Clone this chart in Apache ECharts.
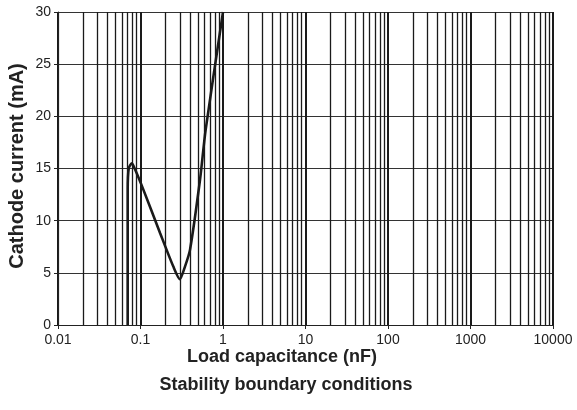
<!DOCTYPE html>
<html><head><meta charset="utf-8">
<script src="https://cdn.jsdelivr.net/npm/echarts@6/dist/echarts.min.js"></script>
<style>html,body{margin:0;padding:0;background:#fff}#c{width:577px;height:410px}</style>
</head><body><div id="c"></div>
<script>
// Data
var capacitanceNF = [0.07, 0.07, 0.072, 0.0784, 0.085, 0.108, 0.173, 0.25, 0.3, 0.346, 0.398, 0.526, 0.616, 1.0];
var currentMA     = [0,    13,   15,    15.5,   15,    13,    8.8,   5.6,  4.4, 5.6,   7.2,   13.9,  18.7,  30];
var xTickLabels = ['0.01', '0.1', '1', '10', '100', '1000', '10000'];
var decades = [0.01, 0.1, 1, 10, 100, 1000];
var minorMultipliers = [2, 3, 4, 5, 6, 7, 8, 9];

var minorGrid = [];
decades.forEach(function (d) { minorMultipliers.forEach(function (m) { minorGrid.push({ xAxis: Number((d * m).toPrecision(3)) }); }); });

var font = '"Liberation Sans", Arial, sans-serif';
var titleStyle = { fontFamily: font, fontSize: 18, fontWeight: 'bold', fill: '#222', textAlign: 'center', textVerticalAlign: 'middle' };
var chart = echarts.init(document.getElementById('c'));
chart.setOption({
  animation: false,
  grid: { left: 58, right: 24, top: 12, bottom: 85 },
  graphic: [
    { type: 'text', x: 282, y: 357, silent: true,
      style: Object.assign({ text: 'Load capacitance (nF)' }, titleStyle) },
    { type: 'text', x: 286, y: 385, silent: true,
      style: Object.assign({ text: 'Stability boundary conditions' }, titleStyle) },
    { type: 'text', x: 17, y: 166, rotation: Math.PI / 2, silent: true,
      style: Object.assign({ text: 'Cathode current (mA)' }, titleStyle, { fontSize: 20 }) }
  ],
  xAxis: {
    type: 'log', min: 0.01, max: 10000, logBase: 10,
    axisLine: { show: true, lineStyle: { color: '#222', width: 1.2 } },
    axisTick: { show: true, length: 4, lineStyle: { color: '#222' } },
    axisLabel: {
      fontFamily: font, fontSize: 14, color: '#222', margin: 8,
      formatter: function (v) { return String(Number(v.toPrecision(3))); }
    },
    splitLine: { show: true, lineStyle: { color: '#1a1a1a', width: 2 } }
  },
  yAxis: {
    type: 'value', min: 0, max: 30, interval: 5,
    axisLine: { show: true, lineStyle: { color: '#222', width: 1.2 } },
    axisTick: { show: true, length: 4, inside: false, lineStyle: { color: '#222' } },
    axisLabel: { fontFamily: font, fontSize: 14, color: '#222', margin: 7 },
    splitLine: { show: true, lineStyle: { color: '#333', width: 1.2 } }
  },
  series: [
    {
      type: 'line', data: [], silent: true,
      markLine: {
        silent: true, symbol: ['none', 'none'], label: { show: false },
        lineStyle: { color: '#1a1a1a', width: 1.3, type: 'solid' },
        data: minorGrid
      }
    },
    {
      type: 'line',
      data: capacitanceNF.map(function (x, i) { return [x, currentMA[i]]; }),
      showSymbol: false, smooth: 0.25,
      lineStyle: { color: '#1a1a1a', width: 2.6 },
      z: 5
    }
  ]
});
</script>
</body></html>
